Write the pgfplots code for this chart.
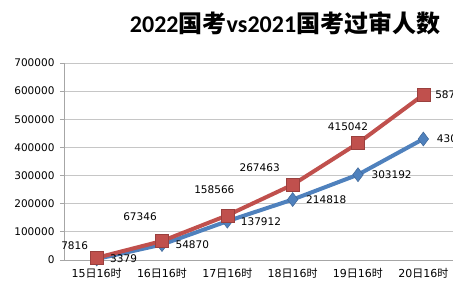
\documentclass[border=0pt]{standalone}
\usepackage{fontspec}
\setmainfont{DejaVu Sans}
\newfontfamily\cjk{Noto Sans CJK SC}
\newfontfamily\titlelat{Carlito}
\usepackage{pgfplots}
\usepackage{pgfplotstable}
\pgfplotsset{compat=1.18}
\definecolor{xred}{HTML}{C0504D}
\definecolor{xblue}{HTML}{4F81BD}
\pgfplotstableread{
x y dx dy
0 7816 -22 12
1 67346 -22 24
2 158566 -13 26
3 267463 -33 17
4 415042 -10 17
5 587000 32 0
}\redtab
\pgfplotstableread{
x y
0 3379
1 54870
2 137912
3 214818
4 303192
5 430000
}\bluetab
\begin{document}
\begin{tikzpicture}
\useasboundingbox (0,0) rectangle (453pt,284pt);
\begin{axis}[
  at={(64pt,24pt)}, anchor=south west,
  scale only axis, width=392pt, height=197pt,
  xmin=-0.5, xmax=5.5, ymin=0, ymax=700000,
  xtick={0,...,5},
  xticklabels={15{\cjk 日}16{\cjk 时},16{\cjk 日}16{\cjk 时},17{\cjk 日}16{\cjk 时},18{\cjk 日}16{\cjk 时},19{\cjk 日}16{\cjk 时},20{\cjk 日}16{\cjk 时}},
  ytick={0,100000,...,700000},
  scaled y ticks=false,
  /pgf/number format/.cd, fixed, precision=0, 1000 sep={}, assume math mode=true, /pgfplots/.cd,
  axis x line*=bottom, axis y line*=left,
  axis line style={draw=gray!70, line width=0.8pt},
  ymajorgrids, major grid style={draw=gray!45, line width=0.9pt},
  xtick style={draw=none},
  ytick style={draw=gray!70, line width=0.8pt},
  tick align=outside, major tick length=4pt,
  yticklabel style={font=\fontsize{10.5}{12}\selectfont, xshift=-2pt},
  xticklabel style={font=\fontsize{11}{13}\selectfont, yshift=-1pt},
  title={{\titlelat\bfseries 2022}{\cjk\bfseries 国考}{\titlelat\bfseries vs2021}{\cjk\bfseries 国考过审人数}},
  title style={font=\fontsize{24}{28}\selectfont, at={(axis description cs:0.564,1)}, anchor=base, yshift=25pt},
  clip=false,
]
\addplot[color=xblue, line width=4pt, mark=diamond*, mark size=7pt,
  mark options={solid, fill=xblue, draw=xblue!80!black, line width=0.5pt},
  nodes near coords, point meta=y,
  every node near coord/.style={anchor=west, xshift=10pt, font=\fontsize{10.5}{12}\selectfont, text=black}]
  table[x=x,y=y] {\bluetab};
\addplot[color=xred, line width=4pt, mark=square*, mark size=6.5pt,
  mark options={solid, fill=xred, draw=xred!80!black, line width=0.5pt},
  nodes near coords, point meta=y,
  visualization depends on={\thisrow{dx} \as \dx},
  visualization depends on={\thisrow{dy} \as \dy},
  every node near coord/.style={anchor=center, xshift=\dx pt, yshift=\dy pt, font=\fontsize{10.5}{12}\selectfont, text=black}]
  table[x=x,y=y] {\redtab};
\end{axis}
\end{tikzpicture}
\end{document}
